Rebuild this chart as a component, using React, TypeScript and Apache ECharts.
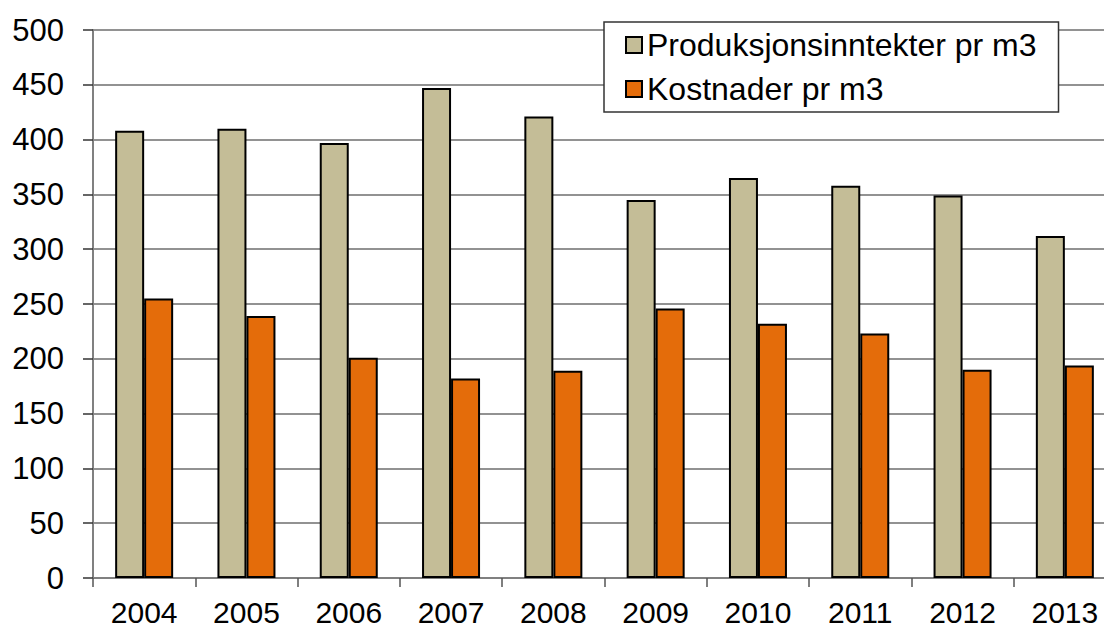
import React, { useEffect, useRef } from "react";
import * as echarts from "echarts";

const years = ["2004", "2005", "2006", "2007", "2008", "2009", "2010", "2011", "2012", "2013"];
const inntekter = [408, 410, 397, 447, 421, 345, 365, 358, 349, 312];
const kostnader = [255, 239, 201, 182, 189, 246, 232, 223, 190, 194];
const seriesNames = ["Produksjonsinntekter pr m3", "Kostnader pr m3"];

const FONT = "'Liberation Sans', Arial, sans-serif";

export default function App() {
  const ref = useRef<HTMLDivElement>(null);
  useEffect(() => {
    if (!ref.current) return;
    const chart = echarts.init(ref.current, null, { renderer: "svg" });
    chart.setOption({
      animation: false,
      backgroundColor: "#ffffff",
      textStyle: { fontFamily: FONT },
      grid: {
        left: 93,
        width: 1023,
        top: 30,
        bottom: 50,
        containLabel: false,
        outerBoundsMode: "none",
      },
      legend: {
        orient: "vertical",
        left: 604,
        top: 22,
        padding: [7, 22, 7, 21],
        backgroundColor: "#ffffff",
        borderColor: "#333333",
        borderWidth: 1.5,
        itemWidth: 16,
        itemHeight: 16,
        itemGap: 12,
        icon: "rect",
        textStyle: { fontSize: 32, color: "#000", fontFamily: FONT, lineHeight: 30 },
        data: seriesNames,
      },
      xAxis: {
        type: "category",
        data: years,
        axisLine: { lineStyle: { color: "#808080", width: 2 } },
        axisTick: { show: true, length: 9, lineStyle: { color: "#555", width: 1.5 } },
        axisLabel: { fontSize: 30, lineHeight: 24, color: "#000", margin: 22, fontFamily: FONT },
      },
      yAxis: {
        type: "value",
        min: 0,
        max: 500,
        interval: 50,
        axisLine: { show: true, lineStyle: { color: "#808080", width: 2 } },
        axisTick: { show: true, length: 10, lineStyle: { color: "#333", width: 1.5 } },
        axisLabel: { fontSize: 31, color: "#000", margin: 29, fontFamily: FONT },
        splitLine: { show: true, lineStyle: { color: "#6e6e6e", width: 1.5 } },
      },
      series: [
        {
          name: seriesNames[0],
          type: "bar",
          data: inntekter,
          barWidth: 29,
          barGap: "0%",
          itemStyle: { color: "#c4bd97", borderColor: "#000", borderWidth: 2 },
        },
        {
          name: seriesNames[1],
          type: "bar",
          data: kostnader,
          barWidth: 29,
          barGap: "0%",
          itemStyle: { color: "#e46c0a", borderColor: "#000", borderWidth: 2 },
        },
      ],
    });
    return () => chart.dispose();
  }, []);
  return (
    <div
      ref={ref}
      style={{ position: "fixed", left: 0, top: 0, width: 1104, height: 628, background: "#fff" }}
    />
  );
}
